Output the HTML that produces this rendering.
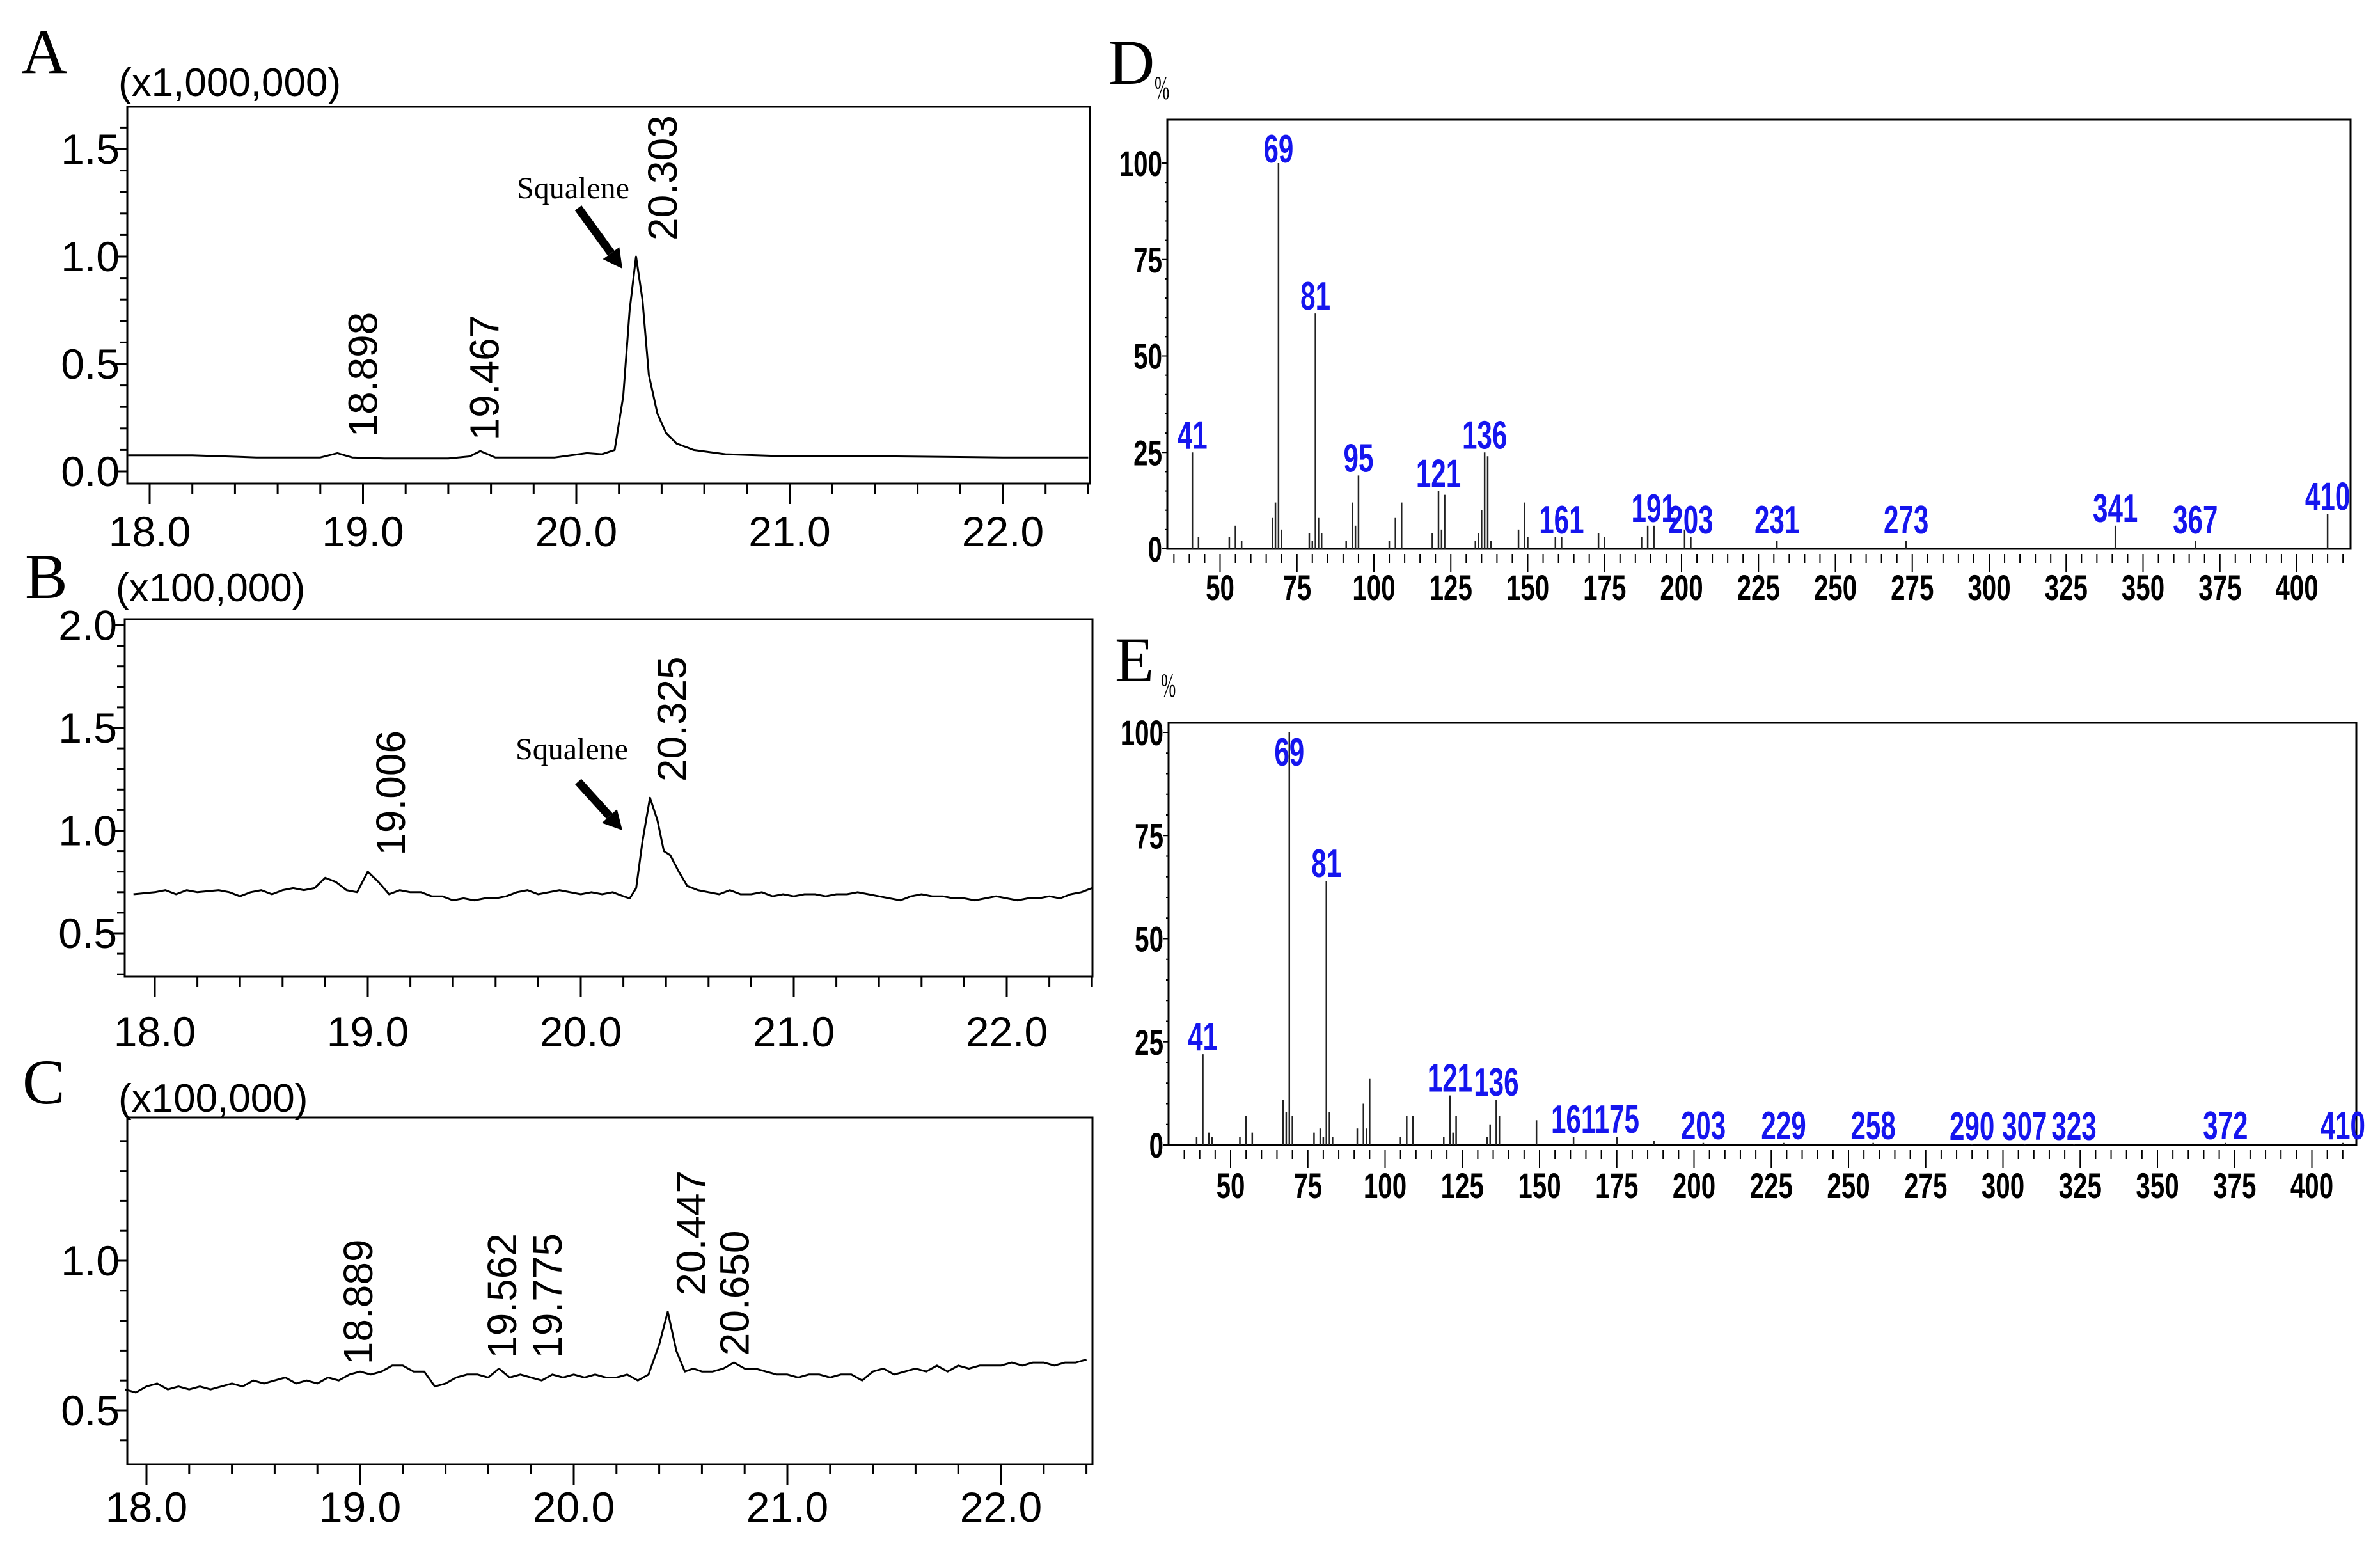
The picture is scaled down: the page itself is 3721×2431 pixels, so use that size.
<!DOCTYPE html>
<html><head><meta charset="utf-8"><style>
html,body{margin:0;padding:0;background:#fff;}
svg{display:block;}
</style></head><body>
<svg id="fig" width="3721" height="2431" viewBox="0 0 3721 2431" xmlns="http://www.w3.org/2000/svg"></svg>
<script>
// ---------- Chromatogram data ----------
const aTimes = [17.9,18.2,18.5,18.8,18.88,18.95,19.1,19.4,19.5,19.55,19.62,19.9,20.05,20.12,20.18,20.22,20.25,20.28,20.31,20.34,20.38,20.42,20.47,20.55,20.7,21.0,21.5,22.0,22.4];
const aValues = [0.075,0.075,0.065,0.065,0.085,0.065,0.06,0.06,0.07,0.095,0.065,0.065,0.085,0.08,0.1,0.35,0.75,1.0,0.8,0.45,0.27,0.18,0.13,0.1,0.08,0.07,0.07,0.065,0.065];
const aPeakLabels = ["18.898","19.467","20.303"];
const aYTicks = ["0.0","0.5","1.0","1.5"];

const bTimes = [17.9,18.0,18.05,18.1,18.15,18.2,18.3,18.35,18.4,18.45,18.5,18.55,18.6,18.65,18.7,18.75,18.8,18.85,18.9,18.95,19.0,19.05,19.1,19.15,19.2,19.25,19.3,19.35,19.4,19.45,19.5,19.55,19.6,19.65,19.7,19.75,19.8,19.85,19.9,19.95,20.0,20.05,20.1,20.15,20.2,20.23,20.26,20.29,20.325,20.36,20.39,20.42,20.46,20.5,20.55,20.6,20.65,20.7,20.75,20.8,20.85,20.9,20.95,21.0,21.05,21.1,21.15,21.2,21.25,21.3,21.35,21.4,21.45,21.5,21.55,21.6,21.65,21.7,21.75,21.8,21.85,21.9,21.95,22.0,22.05,22.1,22.15,22.2,22.25,22.3,22.35,22.4];
const bValues = [0.69,0.70,0.71,0.69,0.71,0.70,0.71,0.70,0.68,0.70,0.71,0.69,0.71,0.72,0.71,0.72,0.77,0.75,0.71,0.70,0.80,0.75,0.69,0.71,0.70,0.70,0.68,0.68,0.66,0.67,0.66,0.67,0.67,0.68,0.70,0.71,0.69,0.70,0.71,0.70,0.69,0.70,0.69,0.70,0.68,0.67,0.72,0.95,1.16,1.05,0.90,0.88,0.80,0.73,0.71,0.70,0.69,0.71,0.69,0.69,0.70,0.68,0.69,0.68,0.69,0.69,0.68,0.69,0.69,0.70,0.69,0.68,0.67,0.66,0.68,0.69,0.68,0.68,0.67,0.67,0.66,0.67,0.68,0.67,0.66,0.67,0.67,0.68,0.67,0.69,0.70,0.72];
const bPeakLabels = ["19.006","20.325"];
const bYTicks = ["0.5","1.0","1.5","2.0"];

const cTimes = [17.9,17.95,18.0,18.05,18.1,18.15,18.2,18.25,18.3,18.35,18.4,18.45,18.5,18.55,18.6,18.65,18.7,18.75,18.8,18.85,18.9,18.95,19.0,19.05,19.1,19.15,19.2,19.25,19.3,19.35,19.4,19.45,19.5,19.55,19.6,19.65,19.7,19.75,19.8,19.85,19.9,19.95,20.0,20.05,20.1,20.15,20.2,20.25,20.3,20.35,20.4,20.44,20.48,20.52,20.56,20.6,20.65,20.7,20.75,20.8,20.85,20.9,20.95,21.0,21.05,21.1,21.15,21.2,21.25,21.3,21.35,21.4,21.45,21.5,21.55,21.6,21.65,21.7,21.75,21.8,21.85,21.9,21.95,22.0,22.05,22.1,22.15,22.2,22.25,22.3,22.35,22.4];
const cValues = [0.57,0.56,0.58,0.59,0.57,0.58,0.57,0.58,0.57,0.58,0.59,0.58,0.60,0.59,0.60,0.61,0.59,0.60,0.59,0.61,0.60,0.62,0.63,0.62,0.63,0.65,0.65,0.63,0.63,0.58,0.59,0.61,0.62,0.62,0.61,0.64,0.61,0.62,0.61,0.60,0.62,0.61,0.62,0.61,0.62,0.61,0.61,0.62,0.60,0.62,0.72,0.83,0.70,0.63,0.64,0.63,0.63,0.64,0.66,0.64,0.64,0.63,0.62,0.62,0.61,0.62,0.62,0.61,0.62,0.62,0.60,0.63,0.64,0.62,0.63,0.64,0.63,0.65,0.63,0.65,0.64,0.65,0.65,0.65,0.66,0.65,0.66,0.66,0.65,0.66,0.66,0.67];
const cPeakLabels = ["18.889","19.562","19.775","20.447","20.650"];
const cYTicks = ["0.5","1.0"];

const xTickLabels = ["18.0","19.0","20.0","21.0","22.0"];

// ---------- Mass spectra data ----------
const dMz = [41,43,53,55,57,67,68,69,70,79,80,81,82,83,91,93,94,95,105,107,109,119,121,122,123,133,134,135,136,137,138,147,149,150,159,161,173,175,187,189,191,201,203,231,273,341,367,410];
const dInt = [25,3,3,6,2,8,12,100,5,4,2,61,8,4,2,12,6,19,2,8,12,4,15,5,14,2,4,10,25,24,2,5,12,3,3,3,4,3,3,6,6,5,3,2,2,6,2,9];
const dLabels = [41,69,81,95,121,136,161,191,203,231,273,341,367,410];

const eMz = [39,41,43,44,53,55,57,67,68,69,70,77,79,80,81,82,83,91,93,94,95,105,107,109,119,121,122,123,133,134,136,137,149,161,175,187,203,229,258,290,307,323,372,410];
const eInt = [2,22,3,2,2,7,3,11,8,100,7,3,4,2,64,8,2,4,10,4,16,2,7,7,2,12,3,7,2,5,11,7,6,2,2,1,0.5,0.5,0.5,0.3,0.3,0.3,0.5,0.5];
const eLabels = [41,69,81,121,136,161,175,203,229,258,290,307,323,372,410];

const msXTicks = ["50","75","100","125","150","175","200","225","250","275","300","325","350","375","400"];
const msYTicks = ["0","25","50","75","100"];

// ---------- helpers ----------
const NS = "http://www.w3.org/2000/svg";
const svg = document.getElementById('fig');
function mk(tag, attrs, parent){
  const e = document.createElementNS(NS, tag);
  for (const k in attrs) e.setAttribute(k, attrs[k]);
  (parent||svg).appendChild(e);
  return e;
}
function txt(parent, s, x, y, size, opts){
  opts = opts||{};
  const t = mk('text', {x:x, y:y, 'font-size':size, 'font-family': opts.family||'"Liberation Sans", Arial, sans-serif', 'text-anchor': opts.anchor||'start', fill: opts.fill||'#000', 'font-weight': opts.weight||'normal'}, parent);
  if (opts.transform) t.setAttribute('transform', opts.transform);
  t.textContent = s;
  return t;
}

function chromatogram(cfg){
  const g = mk('g', {});
  
  
  const X = t => cfg.x18 + (t - 18) * cfg.pxPerMin;
  const Y = v => cfg.y0 - (v - cfg.v0) * cfg.pxPerUnit;
  const L = txt(g, cfg.letter, cfg.letterX, cfg.letterY, 100, {family:'"Liberation Serif", serif'});
  
  
  const M = txt(g, cfg.mult, cfg.left - 14, cfg.multY, 62);
  
  
  const fr = mk('rect', {x:cfg.left, y:cfg.top, width:cfg.right-cfg.left, height:cfg.bottom-cfg.top, fill:'none', stroke:'#000', 'stroke-width':3}, g);
  
  
  for (let k = Math.ceil(cfg.yMin*10); k <= Math.floor(cfg.yMax*10); k++){
    const v = k/10, y = Y(v);
    const major = (k % 5 === 0);
    mk('line', {x1:cfg.left - (major?18:12), x2:cfg.left, y1:y, y2:y, stroke:'#000', 'stroke-width':3}, g);
  }
  cfg.yTicks.forEach(s => {
    const t = txt(g, s, cfg.left - 12, Y(parseFloat(s)) + 23, 66, {anchor:'end'});
    
    
  });
  for (let k = 90; k <= 112; k++){
    const t = k/5, x = X(t);
    if (x < cfg.left - 1 || x > cfg.right + 1) continue;
    const major = (k % 5 === 0);
    mk('line', {x1:x, x2:x, y1:cfg.bottom, y2:cfg.bottom + (major?32:16), stroke:'#000', 'stroke-width':3}, g);
  }
  xTickLabels.forEach(s => {
    const t = txt(g, s, X(parseFloat(s)), cfg.xLabelY, 66, {anchor:'middle'});
    
    
  });
  let d = '';
  cfg.times.forEach((t,i) => { d += (i?'L':'M') + X(t).toFixed(1) + ',' + Y(cfg.values[i]).toFixed(1); });
  const p = mk('path', {d:d, fill:'none', stroke:'#000', 'stroke-width':3, 'stroke-linejoin':'round'}, g);
  
  
  cfg.peaks.forEach(s => {
    const rt = parseFloat(s);
    let pv = 0;
    cfg.times.forEach((t,i) => { if (Math.abs(t - rt) <= 0.035 && cfg.values[i] > pv) pv = cfg.values[i]; });
    if (pv === 0) {
      for (let i=1;i<cfg.times.length;i++) if (cfg.times[i] >= rt){ pv = cfg.values[i-1] + (cfg.values[i]-cfg.values[i-1])*(rt-cfg.times[i-1])/(cfg.times[i]-cfg.times[i-1]); break; }
    }
    const bx = X(rt) + 34 + 0.358*62, by = Y(pv) - 25;
    const t = txt(g, s, bx, by, 64, {transform:'rotate(-90 ' + bx.toFixed(1) + ' ' + by.toFixed(1) + ')'});
    
    
  });
  if (cfg.squalene){
    const q = cfg.squalene;
    const t = txt(g, 'Squalene', q.tx, q.ty, 48, {family:'"Liberation Serif", serif', anchor:'middle'});
    
    
    const ang = Math.atan2(q.y2-q.y1, q.x2-q.x1);
    const hx = q.x2 - 30*Math.cos(ang), hy = q.y2 - 30*Math.sin(ang);
    const a = mk('line', {x1:q.x1, y1:q.y1, x2:hx, y2:hy, stroke:'#000', 'stroke-width':13}, g);
    
    
    const px = -Math.sin(ang), py = Math.cos(ang);
    const h = mk('polygon', {points: q.x2+','+q.y2+' '+(hx+px*16)+','+(hy+py*16)+' '+(hx-px*16)+','+(hy-py*16), fill:'#000'}, g);
    
    
  }
}

chromatogram({name:'panel-a-chromatogram', letter:'A', letterX:33, letterY:114, mult:'(x1,000,000)', multY:150,
  left:199, right:1704, top:167, bottom:756, x18:234, pxPerMin:333.5, y0:737, v0:0, pxPerUnit:336,
  yMin:0, yMax:1.6, yTicks:aYTicks, xLabelY:854, times:aTimes, values:aValues, peaks:aPeakLabels,
  squalene:{tx:896, ty:310, x1:904, y1:325, x2:973, y2:420}});
chromatogram({name:'panel-b-chromatogram', letter:'B', letterX:39, letterY:935, mult:'(x100,000)', multY:940,
  left:195, right:1708, top:968, bottom:1527, x18:242, pxPerMin:333, y0:1459, v0:0.5, pxPerUnit:321,
  yMin:0.3, yMax:2.0, yTicks:bYTicks, xLabelY:1636, times:bTimes, values:bValues, peaks:bPeakLabels,
  squalene:{tx:894, ty:1187, x1:904, y1:1222, x2:973, y2:1298}});
chromatogram({name:'panel-c-chromatogram', letter:'C', letterX:35, letterY:1725, mult:'(x100,000)', multY:1738,
  left:199, right:1708, top:1747, bottom:2289, x18:229, pxPerMin:334, y0:2205, v0:0.5, pxPerUnit:468,
  yMin:0.4, yMax:1.4, yTicks:cYTicks, xLabelY:2379, times:cTimes, values:cValues, peaks:cPeakLabels});

function spectrum(cfg){
  const g = mk('g', {});
  
  
  const X = m => cfg.x50 + (m - 50) * cfg.pxPerMz;
  const Y = v => cfg.y0 - v * cfg.pxPerPct;
  const L = txt(g, cfg.letter, cfg.letterX, cfg.letterY, 100, {family:'"Liberation Serif", serif'});
  
  
  const P = mk('text', {transform:'translate(' + (cfg.letterX + 72) + ',' + (cfg.letterY + 24) + ') scale(0.7,1.3)', 'font-size':40, 'font-family':'"Liberation Serif", serif'}, g);
  P.textContent = '%';
  
  
  const fr = mk('rect', {x:cfg.left, y:cfg.top, width:cfg.right-cfg.left, height:cfg.bottom-cfg.top, fill:'none', stroke:'#000', 'stroke-width':3}, g);
  
  
  for (let v = 0; v <= 100; v += 5){
    const y = Y(v);
    mk('line', {x1:cfg.left - (v%25===0?8:4), x2:cfg.left, y1:y, y2:y, stroke:'#000', 'stroke-width':2}, g);
  }
  msYTicks.forEach(s => {
    const t = mk('text', {transform:'translate(' + (cfg.left - 8) + ',' + (Y(parseFloat(s)) + 20) + ') scale(0.72,1)', 'font-size':56, 'font-weight':'bold', 'font-family':'"Liberation Sans", Arial, sans-serif', 'text-anchor':'end'}, g);
    t.textContent = s;
    
    
  });
  for (let m = 35; m <= 415; m += 5){
    const x = X(m);
    if (x < cfg.left + 4 || x > cfg.right - 2) continue;
    const major = (m % 25 === 0);
    mk('line', {x1:x, x2:x, y1:cfg.bottom + 8, y2:cfg.bottom + (major?36:22), stroke:'#000', 'stroke-width':2}, g);
  }
  msXTicks.forEach(s => {
    const t = mk('text', {transform:'translate(' + X(parseFloat(s)) + ',' + (cfg.xLabelY + 2) + ') scale(0.72,1)', 'font-size':56, 'font-weight':'bold', 'font-family':'"Liberation Sans", Arial, sans-serif', 'text-anchor':'middle'}, g);
    t.textContent = s;
    
    
  });
  mk('line', {x1:cfg.left, x2:cfg.right, y1:cfg.y0, y2:cfg.y0, stroke:'#000', 'stroke-width':3}, g);
  cfg.mz.forEach((m,i) => {
    const b = mk('line', {x1:X(m), x2:X(m), y1:cfg.y0, y2:Y(cfg.inten[i]), stroke:'#222', 'stroke-width':2.5}, g);
    
    
  });
  cfg.labels.forEach(m => {
    const i = cfg.mz.indexOf(m);
    const v = Math.max(i >= 0 ? cfg.inten[i] : 0, cfg.floor);
    let cy = Y(v) - 28;
    if (cy < cfg.top + 45) cy = cfg.top + 45;
    const t = mk('text', {transform:'translate(' + X(m) + ',' + (cy + 22) + ') scale(0.68,1)', 'font-size':62, 'font-weight':'bold', 'font-family':'"Liberation Sans", Arial, sans-serif', 'text-anchor':'middle', fill:'#1515ee'}, g);
    t.textContent = String(m);
    
    
  });
}

spectrum({name:'panel-d-mass-spectrum', letter:'D', letterX:1733, letterY:131, left:1825, right:3675, top:187, bottom:858,
  x50:1907.5, pxPerMz:4.81, y0:858, pxPerPct:6.03, xLabelY:936, mz:dMz, inten:dInt, labels:dLabels, floor:3});
spectrum({name:'panel-e-mass-spectrum', letter:'E', letterX:1743, letterY:1065, left:1827, right:3684, top:1130, bottom:1790,
  x50:1924, pxPerMz:4.83, y0:1790, pxPerPct:6.45, xLabelY:1871, mz:eMz, inten:eInt, labels:eLabels, floor:0});
</script>
</body></html>
